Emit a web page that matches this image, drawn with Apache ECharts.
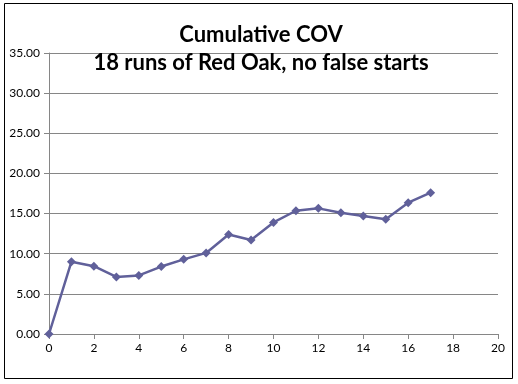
<!DOCTYPE html>
<html>
<head>
<meta charset="utf-8">
<script src="https://cdn.jsdelivr.net/npm/echarts@6/dist/echarts.min.js"></script>
<style>html,body{margin:0;padding:0;background:#fff}#c{width:518px;height:384px}</style>
</head>
<body>
<div id="c"></div>
<script>
const runs = [0,1,2,3,4,5,6,7,8,9,10,11,12,13,14,15,16,17];
const cov = [0.0,9.0,8.45,7.1,7.3,8.4,9.3,10.1,12.4,11.7,13.9,15.35,15.65,15.1,14.7,14.3,16.35,17.6];
const titleLines = ['Cumulative COV','18 runs of Red Oak, no false starts'];

const chart = echarts.init(document.getElementById('c'));
const fontFam = 'Lato, "Open Sans", sans-serif';
chart.setOption({
  animation:false,
  backgroundColor:'#fff',
  graphic:[{type:'rect',shape:{x:4.5,y:3.5,width:508,height:375},style:{fill:'none',stroke:'#000',lineWidth:1},z:-1}],
  title:[
    {text:titleLines[0],left:256,textAlign:'center',top:19,textStyle:{fontFamily:fontFam,fontWeight:'bold',fontSize:22,color:'#000'}},
    {text:titleLines[1],left:256,textAlign:'center',top:47,textStyle:{fontFamily:fontFam,fontWeight:'bold',fontSize:22,color:'#000'}}
  ],
  grid:{left:49,right:20,top:53,bottom:50,containLabel:false},
  xAxis:{type:'value',min:0,max:20,interval:2,
    axisLine:{onZero:false,lineStyle:{color:'#868686',width:1}},
    axisTick:{show:true,length:5,inside:false,lineStyle:{color:'#868686'}},
    splitLine:{show:false},
    axisLabel:{margin:8,fontFamily:fontFam,fontSize:12,color:'#000'}},
  yAxis:{type:'value',min:0,max:35,interval:5,
    axisLine:{show:true,lineStyle:{color:'#868686',width:1}},
    axisTick:{show:true,length:5,lineStyle:{color:'#868686'}},
    splitLine:{show:true,lineStyle:{color:'#868686',width:1}},
    axisLabel:{margin:9,fontFamily:fontFam,fontSize:12,color:'#000',formatter:v=>v.toFixed(2)}},
  series:[{type:'line',data:runs.map((r,i)=>[r,cov[i]]),
    symbol:'diamond',symbolSize:9,
    lineStyle:{color:'#60609A',width:2.5},
    itemStyle:{color:'#60609A'}}]
});
</script>
</body>
</html>
